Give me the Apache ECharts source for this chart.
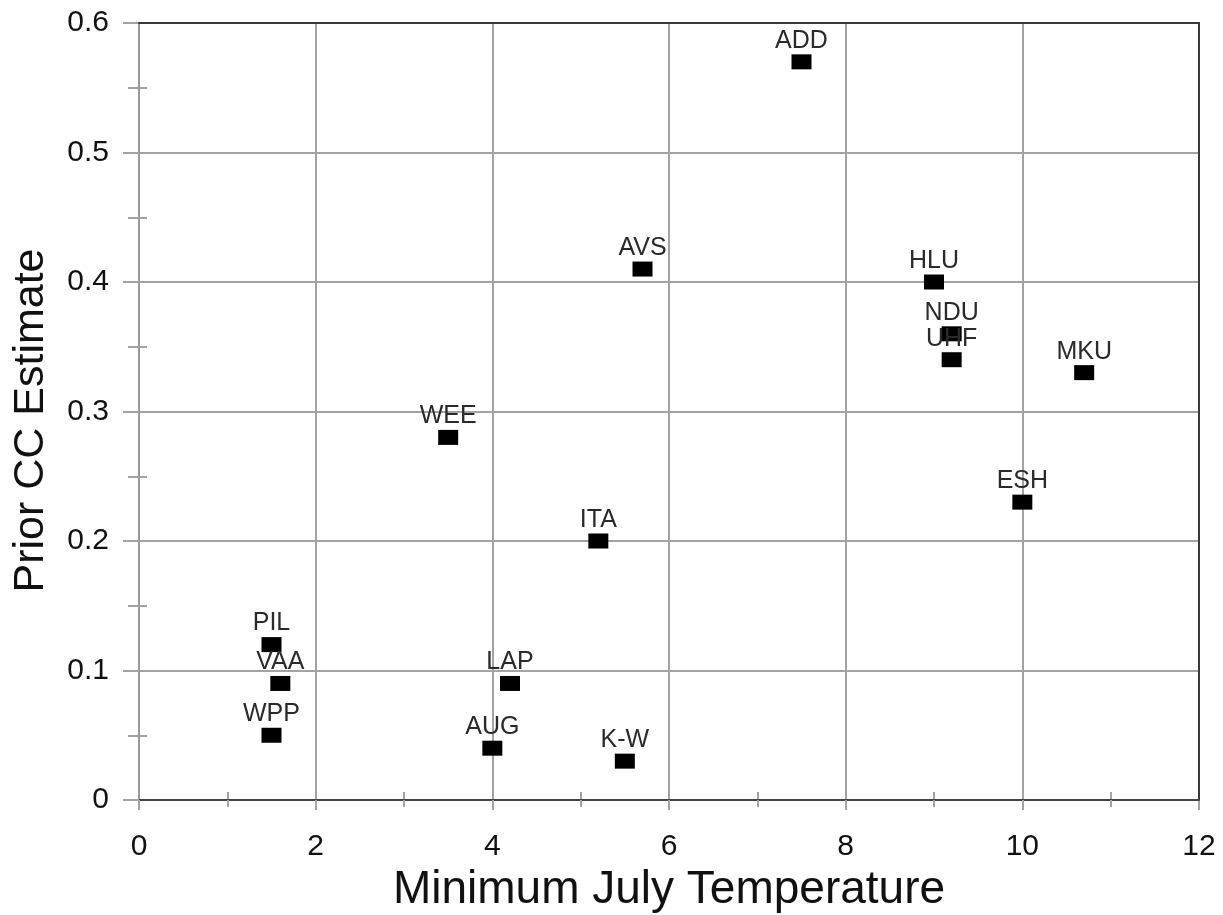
<!DOCTYPE html>
<html>
<head>
<meta charset="utf-8">
<title>Prior CC Estimate vs Minimum July Temperature</title>
<script src="https://cdn.jsdelivr.net/npm/echarts@6/dist/echarts.min.js"></script>
<style>
  html, body { margin: 0; padding: 0; background: #fff; }
  #chart { width: 1223px; height: 915px; }
</style>
</head>
<body>
<div id="chart"></div>
<script>
// Site codes, minimum July temperature and prior CC estimate per site
const sites = ['ADD', 'AVS', 'HLU', 'NDU', 'UHF', 'MKU', 'WEE', 'ESH', 'ITA', 'PIL', 'VAA', 'LAP', 'WPP', 'AUG', 'K-W'];
const minJulyTemp = [7.5, 5.7, 9.0, 9.2, 9.2, 10.7, 3.5, 10.0, 5.2, 1.5, 1.6, 4.2, 1.5, 4.0, 5.5];
const priorCC = [0.57, 0.41, 0.40, 0.36, 0.34, 0.33, 0.28, 0.23, 0.20, 0.12, 0.09, 0.09, 0.05, 0.04, 0.03];

const xTitle = 'Minimum July Temperature';
const yTitle = 'Prior CC Estimate';

const FONT = '"Liberation Sans", Arial, sans-serif';
const GRID_GRAY = '#a3a3a3';
const FRAME = '#3a3a3a';

const points = sites.map((s, i) => ({ value: [minJulyTemp[i], priorCC[i]], name: s }));

// a bare axis used only to draw one side of the plot frame
function frameAxis(position, min, max) {
  return {
    type: 'value', min: min, max: max, position: position, z: 4,
    axisLine: { show: true, onZero: false, lineStyle: { color: FRAME, width: 2 } },
    axisTick: { show: false }, axisLabel: { show: false }, splitLine: { show: false }
  };
}

const chart = echarts.init(document.getElementById('chart'), null, { renderer: 'canvas' });

chart.setOption({
  backgroundColor: '#fff',
  animation: false,
  grid: {
    left: 139, right: 24, top: 23, bottom: 115, show: false,
    containLabel: false, outerBoundsMode: 'none'
  },
  xAxis: [
    {
      type: 'value', min: 0, max: 12, interval: 2, z: 3,
      name: xTitle, nameLocation: 'middle', nameGap: 66,
      nameTextStyle: { fontFamily: FONT, fontSize: 46, color: '#111' },
      axisLine: { show: true, onZero: false, lineStyle: { color: '#444', width: 2 } },
      axisTick: { show: true, inside: false, length: 10, lineStyle: { color: GRID_GRAY, width: 2 } },
      minorTick: { show: true, splitNumber: 2, length: 7, lineStyle: { color: GRID_GRAY, width: 2 } },
      axisLabel: { fontFamily: FONT, fontSize: 30, color: '#111', margin: 32 },
      splitLine: { show: true, lineStyle: { color: GRID_GRAY, width: 2 } }
    },
    {
      // inner half of the crossing minor ticks along the bottom
      type: 'value', min: 0, max: 12, interval: 2, position: 'bottom',
      axisLine: { show: false },
      axisTick: { show: true, inside: true, length: 8, lineStyle: { color: GRID_GRAY, width: 2 } },
      minorTick: { show: true, splitNumber: 2, length: 8, lineStyle: { color: GRID_GRAY, width: 2 } },
      axisLabel: { show: false },
      splitLine: { show: false }
    },
    frameAxis('top', 0, 12)
  ],
  yAxis: [
    {
      type: 'value', min: 0, max: 0.6, interval: 0.1, z: 3,
      name: yTitle, nameLocation: 'middle', nameGap: 86,
      nameTextStyle: { fontFamily: FONT, fontSize: 43, color: '#111', padding: [0, 18, 0, 0] },
      axisLine: { show: true, onZero: false, lineStyle: { color: '#999', width: 2 } },
      axisTick: { show: true, inside: false, length: 16, lineStyle: { color: GRID_GRAY, width: 2 } },
      minorTick: { show: true, splitNumber: 2, length: 11, lineStyle: { color: GRID_GRAY, width: 2 } },
      axisLabel: { fontFamily: FONT, fontSize: 30, color: '#111', margin: 30 },
      splitLine: { show: true, lineStyle: { color: GRID_GRAY, width: 2 } }
    },
    {
      // inner half of the crossing minor ticks along the left side
      type: 'value', min: 0, max: 0.6, interval: 0.1, position: 'left',
      axisLine: { show: false },
      axisTick: { show: true, inside: true, length: 8, lineStyle: { color: GRID_GRAY, width: 2 } },
      minorTick: { show: true, splitNumber: 2, length: 8, lineStyle: { color: GRID_GRAY, width: 2 } },
      axisLabel: { show: false },
      splitLine: { show: false }
    },
    frameAxis('right', 0, 0.6)
  ],
  series: [
    {
      type: 'scatter',
      xAxisIndex: 0, yAxisIndex: 0,
      symbol: 'rect',
      symbolSize: [20, 15],
      itemStyle: { color: '#000', opacity: 1 },
      z: 6,
      label: {
        show: true,
        position: 'top',
        distance: 1,
        formatter: p => p.name,
        fontFamily: FONT,
        fontSize: 25,
        color: '#2a2a2a'
      },
      emphasis: { disabled: true },
      labelLayout: { hideOverlap: false },
      data: points
    }
  ]
});
</script>
</body>
</html>
